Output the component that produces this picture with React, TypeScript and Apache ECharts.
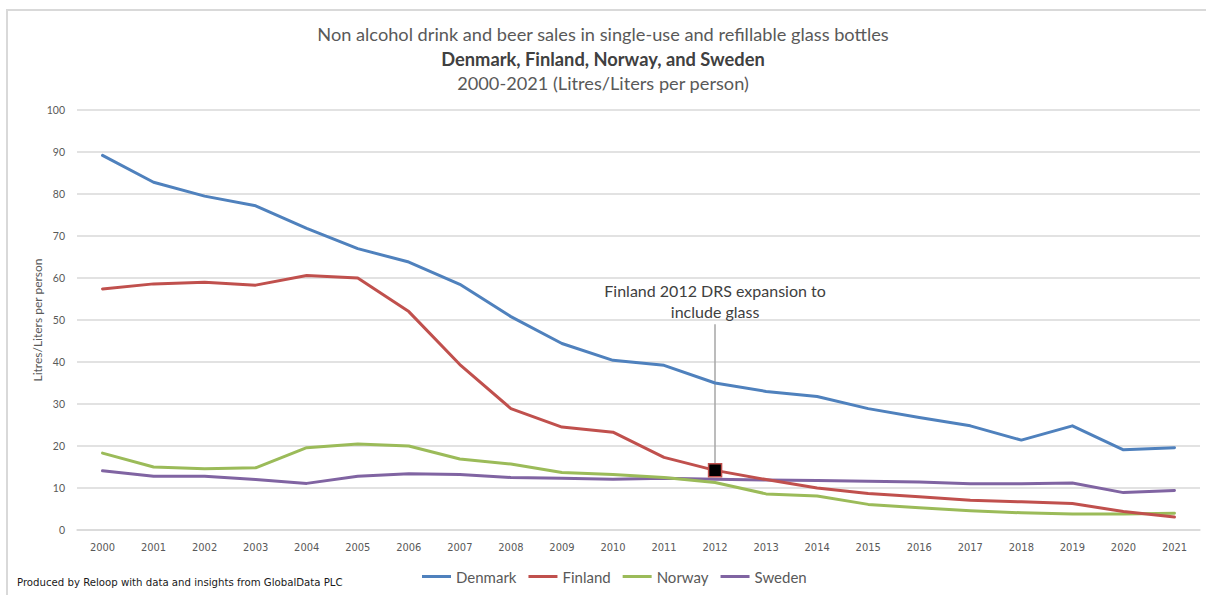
import React, { useEffect, useRef } from "react";
import * as echarts from "echarts";

const years = ["2000","2001","2002","2003","2004","2005","2006","2007","2008","2009","2010","2011","2012","2013","2014","2015","2016","2017","2018","2019","2020","2021"];
const denmark = [89.2, 82.8, 79.5, 77.2, 71.8, 67.0, 63.8, 58.5, 50.8, 44.4, 40.4, 39.2, 35.0, 33.0, 31.8, 28.9, 26.8, 24.8, 21.4, 24.8, 19.1, 19.6];
const finland = [57.4, 58.6, 59.0, 58.3, 60.6, 60.0, 52.0, 39.4, 28.9, 24.5, 23.3, 17.3, 14.2, 12.0, 10.0, 8.7, 7.9, 7.1, 6.7, 6.3, 4.4, 3.1];
const norway = [18.3, 15.0, 14.6, 14.8, 19.6, 20.5, 20.0, 16.9, 15.7, 13.7, 13.2, 12.5, 11.3, 8.6, 8.1, 6.1, 5.3, 4.6, 4.1, 3.8, 3.8, 4.0];
const sweden = [14.1, 12.8, 12.8, 12.0, 11.1, 12.8, 13.4, 13.2, 12.5, 12.3, 12.1, 12.3, 12.1, 11.9, 11.8, 11.6, 11.4, 11.0, 11.0, 11.2, 8.9, 9.4];
const seriesNames = ["Denmark", "Finland", "Norway", "Sweden"];
const seriesColors = ["#4F81BD", "#C0504D", "#9BBB59", "#8064A2"];
const annotationYear = "2012";
const annotationValue = 14.2;
const annotationTop = 49;
const annotationText = "Finland 2012 DRS expansion to\ninclude glass";
const yAxisTitle = "Litres/Liters per person";
const yTicks = { min: 0, max: 100, interval: 10 };

export default function App() {
  const ref = useRef<HTMLDivElement>(null);
  useEffect(() => {
    if (!ref.current) return;
    const chart = echarts.init(ref.current, null, { renderer: "svg" });
    const values = [denmark, finland, norway, sweden];
    const series: any[] = seriesNames.map((name, i) => ({
      name,
      type: "line",
      data: values[i],
      symbol: "none",
      smooth: false,
      lineStyle: { color: seriesColors[i], width: 3, cap: "round", join: "round" },
      itemStyle: { color: seriesColors[i] },
      z: 2 + (3 - i),
    }));
    series[1].markLine = {
      silent: true,
      symbol: "none",
      label: { show: false },
      lineStyle: { color: "#A6A6A6", width: 1.5, type: "solid" },
      data: [[{ coord: [annotationYear, annotationTop] }, { coord: [annotationYear, annotationValue] }]],
    };
    series[1].markPoint = {
      silent: true,
      data: [
        {
          coord: [annotationYear, annotationValue],
          symbol: "rect",
          symbolSize: 13,
          itemStyle: { color: "#000000", borderColor: "#C0504D", borderWidth: 1.5 },
          label: { show: false },
        },
        {
          coord: [annotationYear, annotationTop],
          symbol: "rect",
          symbolSize: 0,
          label: {
            show: true,
            position: "top",
            distance: 2,
            formatter: annotationText,
            fontFamily: "Lato",
            fontSize: 16,
            lineHeight: 21,
            color: "#404040",
            align: "center",
          },
        },
      ],
    };
    chart.setOption({
      animation: false,
      backgroundColor: "#ffffff",
      title: {
        left: "center",
        top: 17,
        text: "{a|Non alcohol drink and beer sales in single-use and refillable glass bottles}\n{b|Denmark, Finland, Norway, and Sweden}\n{a|2000-2021 (Litres/Liters per person)}",
        textStyle: {
          fontWeight: "normal",
          rich: {
            a: { fontFamily: "Lato", fontSize: 18.2, fontWeight: "normal", color: "#595959", lineHeight: 24.5 },
            b: { fontFamily: "Lato", fontSize: 18.3, fontWeight: "bold", color: "#404040", lineHeight: 24.5 },
          },
        },
      },
      legend: {
        left: 417,
        top: 564,
        itemWidth: 29,
        itemHeight: 3,
        itemGap: 12,
        icon: "rect",
        data: seriesNames,
        textStyle: { fontFamily: "Lato", fontSize: 15, color: "#595959" },
      },
      grid: { left: 77, right: 6, top: 110, bottom: 65 },
      xAxis: {
        type: "category",
        data: years,
        boundaryGap: true,
        axisLine: { show: true, lineStyle: { color: "#D9D9D9", width: 1.5 } },
        axisTick: { show: false },
        axisLabel: { fontFamily: "Liberation Sans Narrow, DejaVu Sans Condensed", fontSize: 11, color: "#595959", margin: 12 },
      },
      yAxis: {
        type: "value",
        min: yTicks.min,
        max: yTicks.max,
        interval: yTicks.interval,
        axisLine: { show: false },
        axisTick: { show: false },
        axisLabel: { fontFamily: "Lato", fontSize: 10.5, color: "#595959", margin: 12 },
        splitLine: { lineStyle: { color: "#D9D9D9", width: 1.5 } },
      },
      graphic: [
        {
          type: "polyline",
          shape: { points: [[7, 595], [7, 10], [1206, 10]] },
          style: { stroke: "#D9D9D9", lineWidth: 2, fill: "none" },
          silent: true,
        },
        {
          type: "text",
          x: 37,
          y: 320,
          rotation: Math.PI / 2,
          style: {
            text: yAxisTitle,
            fontFamily: "Lato",
            fontSize: 12,
            fill: "#595959",
            align: "center",
            verticalAlign: "middle",
          },
        },
        {
          type: "text",
          left: 17,
          top: 577,
          style: {
            text: "Produced by Reloop with data and insights from GlobalData PLC",
            fontFamily: "Liberation Sans Narrow, DejaVu Sans Condensed",
            fontSize: 11.3,
            fill: "#1a1a1a",
          },
        },
      ],
      series,
    });
    return () => chart.dispose();
  }, []);
  return (
    <div
      ref={ref}
      style={{ position: "fixed", left: 0, top: 0, width: 1206, height: 595, background: "#fff" }}
    />
  );
}
